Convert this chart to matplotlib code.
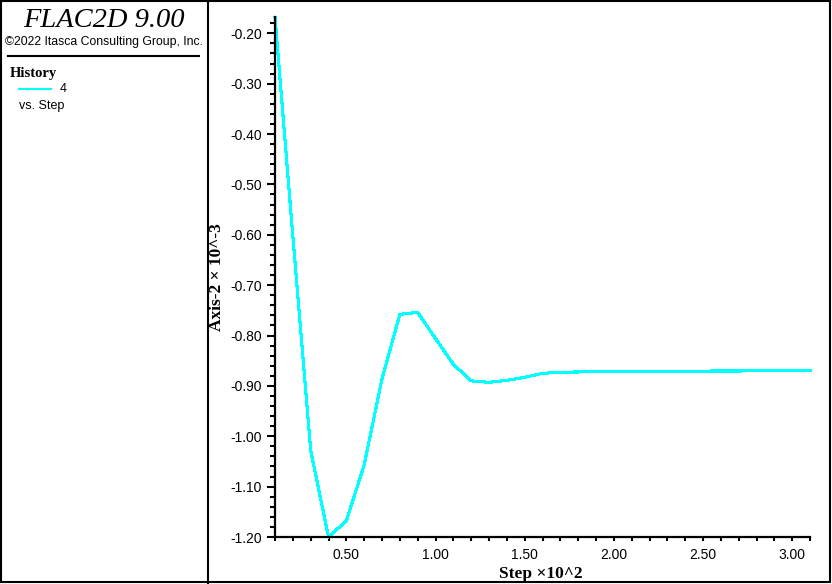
import numpy as np
import matplotlib.pyplot as plt
from matplotlib.lines import Line2D
from matplotlib.patches import Rectangle
from matplotlib.ticker import MultipleLocator, FormatStrFormatter

# history 4: Axis-2 displacement (x10^-3) vs. step
steps = [10, 20, 30, 40, 50, 60, 70, 80, 90, 100, 110, 120, 130, 140, 150,
         160, 170, 200, 310]
axis2 = [-0.168, -0.603, -1.028, -1.200, -1.168, -1.057, -0.886, -0.758,
         -0.754, -0.806, -0.857, -0.890, -0.893, -0.889, -0.883, -0.875,
         -0.873, -0.871, -0.870]

W, H = 832, 584
cyan = '#00ffff'
sans = 'Liberation Sans'
serif = 'Liberation Serif'


def fx(px):
    return px / W


def fy(py):
    return 1 - py / H


fig = plt.figure(figsize=(W / 100, H / 100), dpi=100)

# outer frame and panel separator
fig.add_artist(Rectangle((fx(1), fy(582)), fx(830) - fx(1), fy(1) - fy(582),
                         transform=fig.transFigure, fill=False,
                         edgecolor='black', linewidth=1.5))
fig.add_artist(Line2D([fx(208), fx(208)], [fy(0), fy(584)],
                      transform=fig.transFigure, color='black', linewidth=1.5))

# left panel
fig.text(fx(104), fy(27), 'FLAC2D 9.00', family=serif, style='italic',
         fontsize=20.5, ha='center', va='baseline')
fig.text(fx(104), fy(45), '\u00a92022 Itasca Consulting Group, Inc.',
         family=sans, fontsize=8.8, ha='center', va='baseline')
fig.add_artist(Line2D([fx(8), fx(199)], [fy(56), fy(56)],
                      transform=fig.transFigure, color='black', linewidth=1.5))
fig.text(fx(10), fy(77), 'History', family=serif, weight='bold',
         fontsize=10.5, ha='left', va='baseline')
fig.add_artist(Line2D([fx(19), fx(51)], [fy(89), fy(89)],
                      transform=fig.transFigure, color=cyan, linewidth=1.5))
fig.text(fx(60), fy(89), '4', family=sans, fontsize=9, ha='left', va='center')
fig.text(fx(19), fy(106), 'vs. Step', family=sans, fontsize=9,
         ha='left', va='center')

# plot
ax = fig.add_axes([fx(275), fy(537), fx(810) - fx(275), fy(17) - fy(537)])
ax.plot(np.array(steps) / 100, axis2, color=cyan, linewidth=1.5,
        antialiased=False, clip_on=False)

ax.set_xlim(0.1, 3.1)
ax.set_ylim(-1.2, -0.1676)
for s in ['top', 'right']:
    ax.spines[s].set_visible(False)
for s in ['left', 'bottom']:
    ax.spines[s].set_linewidth(1.6)

ax.xaxis.set_major_locator(MultipleLocator(0.5))
ax.xaxis.set_minor_locator(MultipleLocator(0.1))
ax.yaxis.set_major_locator(MultipleLocator(0.1))
ax.yaxis.set_minor_locator(MultipleLocator(0.02))
ax.xaxis.set_major_formatter(FormatStrFormatter('%.2f'))
ax.yaxis.set_major_formatter(FormatStrFormatter('%.2f'))

ax.tick_params(axis='y', which='major', length=6, width=1.5, pad=3.5)
ax.tick_params(axis='y', which='minor', length=3.6, width=1.5)
ax.tick_params(axis='x', which='both', length=3, width=1.5, pad=5)
for lab in ax.get_xticklabels() + ax.get_yticklabels():
    lab.set_family(sans)
    lab.set_fontsize(10)

fig.text(fx(541), fy(578), 'Step \u00d710^2', family=serif, weight='bold',
         fontsize=12.5, ha='center', va='baseline')
fig.text(fx(217), fy(277), 'Axis-2 \u00d7 10^-3', family=serif, weight='bold',
         fontsize=12.5, ha='center', va='center', rotation=90)

fig.savefig('out.png', dpi=100)
